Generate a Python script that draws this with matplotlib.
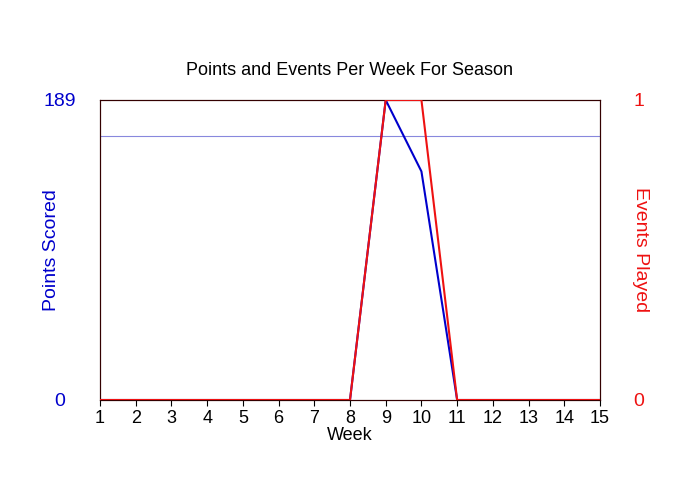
import matplotlib
matplotlib.use("Agg")
import matplotlib.pyplot as plt

weeks = list(range(1, 16))
points = [0, 0, 0, 0, 0, 0, 0, 0, 189, 144, 0, 0, 0, 0, 0]
events = [0, 0, 0, 0, 0, 0, 0, 0, 1, 1, 0, 0, 0, 0, 0]
avg_points = 166.5

plt.rcParams['font.family'] = ['Liberation Sans', 'DejaVu Sans']
fig = plt.figure(figsize=(7, 5), dpi=100)
ax = fig.add_axes([100/700, 100/500, 500/700, 300/500])
ax.plot(weeks, points, color='#0000cc', lw=1.5, zorder=3)
ax.axhline(avg_points, color='#8888dd', lw=0.8)
ax.set_xlim(1, 15)
ax.set_ylim(0, 189)
ax.set_xticks(weeks)
ax.set_yticks([0, 189])
ax.tick_params(axis='y', colors='#0000cc', labelsize=14, length=0, pad=29)
for t in ax.get_yticklabels():
    t.set_horizontalalignment('center')
ax.tick_params(axis='x', labelsize=13, length=4)
ax.set_ylabel('Points Scored', color='#0000cc', fontsize=14)
ax.yaxis.set_label_coords(-0.08, 0.5)
ax.set_xlabel('Week', fontsize=13, labelpad=0)
ax.set_title('Points and Events Per Week For Season', fontsize=13, pad=18)

ax2 = ax.twinx()
ax2.plot(weeks, events, color='#ee1111', lw=1.5, zorder=4)
ax2.set_ylim(0, 1)
ax2.set_yticks([0, 1])
ax2.tick_params(axis='y', colors='#ee1111', labelsize=14, length=0, pad=28)
for t in ax2.get_yticklabels():
    t.set_horizontalalignment('center')
ax2.set_ylabel('Events Played', color='#ee1111', fontsize=14, rotation=270, va='center')
ax2.yaxis.set_label_coords(1.08, 0.5)
for a in (ax, ax2):
    for s in a.spines.values():
        s.set_color('#330000')
fig.savefig('out.png')
